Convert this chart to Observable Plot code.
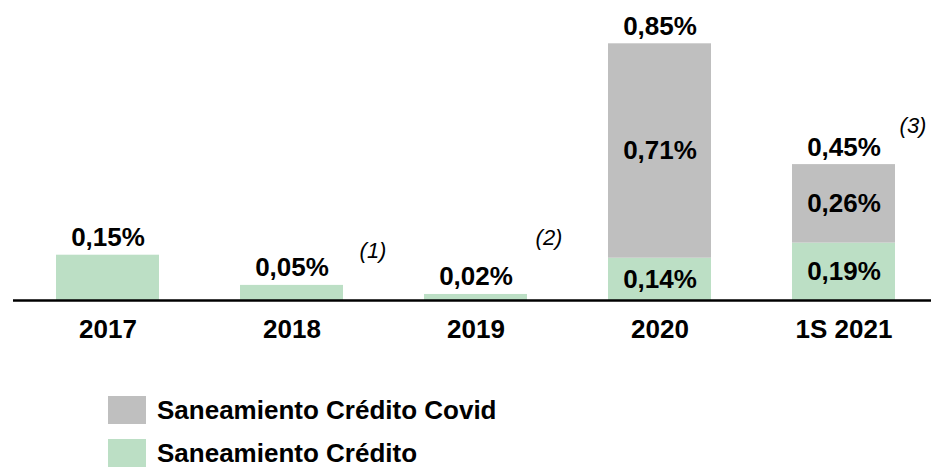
<!DOCTYPE html>
<html>
<head>
<meta charset="utf-8">
<script src="https://cdn.jsdelivr.net/npm/d3@7"></script>
<script src="https://cdn.jsdelivr.net/npm/@observablehq/plot@0.6"></script>
<style>
  body { margin: 0; background: #fff; font-family: "Liberation Sans", Arial, sans-serif; }
  #legend { margin-top: 16px; margin-left: 108px; display: flex; flex-direction: column; gap: 15px; }
  .row { display: flex; align-items: center; height: 28px; }
  .sw { width: 38px; height: 28px; margin-right: 11px; }
  .lab { font-size: 26px; font-weight: bold; color: #000; }
  svg text { font-family: "Liberation Sans", Arial, sans-serif; }
</style>
</head>
<body>
<div id="chart"></div>
<div id="legend"></div>
<script>
const categories = ["2017", "2018", "2019", "2020", "1S 2021"];
const credito = [0.15, 0.05, 0.02, 0.14, 0.19];
const covid = [0, 0, 0, 0.71, 0.26];
const totals = [0.15, 0.05, 0.02, 0.85, 0.45];
const seriesNames = ["Saneamiento Crédito", "Saneamiento Crédito Covid"];
const seriesColors = ["#bcdfc5", "#bfbfbf"];
const notes = [
  {cat: "2018", text: "(1)"},
  {cat: "2019", text: "(2)"},
  {cat: "1S 2021", text: "(3)"}
];

const fmt = v => d3.format(".2f")(v).replace(".", ",") + "%";

const segments = [];
categories.forEach((c, i) => {
  segments.push({cat: c, series: seriesNames[0], value: credito[i]});
  segments.push({cat: c, series: seriesNames[1], value: covid[i]});
});
const covidCats = categories.filter((c, i) => covid[i] > 0);
const totalData = categories.map((c, i) => ({cat: c, value: totals[i]}));
const noteData = notes.map(n => ({...n, value: totals[categories.indexOf(n.cat)]}));

const font = "'Liberation Sans', Arial, sans-serif";
const fs = 26;

const plot = Plot.plot({
  width: 931,
  height: 380,
  marginLeft: 19,
  marginRight: 0,
  marginTop: 43.3,
  marginBottom: 80,
  style: {fontFamily: font, background: "#fff", overflow: "visible"},
  x: {domain: categories, paddingInner: 0.442, paddingOuter: 0.19, label: null},
  y: {domain: [0, 0.85], axis: null},
  color: {domain: seriesNames, range: seriesColors},
  marks: [
    Plot.barY(segments.filter(d => d.value > 0), Plot.stackY({x: "cat", y: "value", fill: "series"})),
    Plot.textY(segments.filter(d => covidCats.includes(d.cat)), Plot.stackY({
      x: "cat", y: "value", text: d => fmt(d.value),
      fontSize: fs, fontWeight: "bold", fill: "#000", lineAnchor: "middle"
    })),
    Plot.textY(totalData, {
      x: "cat", y: "value", text: d => fmt(d.value),
      fontSize: fs, fontWeight: "bold", fill: "#000", lineAnchor: "bottom", dy: -9
    }),
    Plot.textY(noteData.filter(d => d.cat === "2018"), {
      x: "cat", y: "value", text: "text", fontSize: 22, fontStyle: "italic",
      fill: "#000", lineAnchor: "bottom", dx: 81, dy: -27
    }),
    Plot.textY(noteData.filter(d => d.cat === "2019"), {
      x: "cat", y: "value", text: "text", fontSize: 22, fontStyle: "italic",
      fill: "#000", lineAnchor: "bottom", dx: 73, dy: -49
    }),
    Plot.textY(noteData.filter(d => d.cat === "1S 2021"), {
      x: "cat", y: "value", text: "text", fontSize: 22, fontStyle: "italic",
      fill: "#000", lineAnchor: "bottom", dx: 69, dy: -32
    }),
    Plot.ruleY([0], {stroke: "#000", strokeWidth: 2.5, insetLeft: -6}),
    Plot.axisX({tickSize: 0, tickPadding: 19, fontSize: fs, fontWeight: "bold", fill: "#000", label: null})
  ]
});
document.getElementById("chart").appendChild(plot);

const legend = document.getElementById("legend");
[1, 0].forEach(i => {
  const row = document.createElement("div");
  row.className = "row";
  const sw = document.createElement("div");
  sw.className = "sw";
  sw.style.background = seriesColors[i];
  const lab = document.createElement("span");
  lab.className = "lab";
  lab.textContent = seriesNames[i];
  row.appendChild(sw);
  row.appendChild(lab);
  legend.appendChild(row);
});
</script>
</body>
</html>
